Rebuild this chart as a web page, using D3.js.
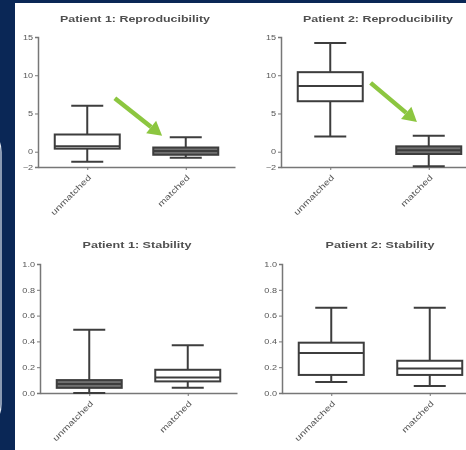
<!DOCTYPE html>
<html>
<head>
<meta charset="utf-8">
<script src="https://cdn.jsdelivr.net/npm/d3@7"></script>
<style>
  body { margin: 0; background: #0a2756; }
  svg { display: block; }
</style>
</head>
<body>
<script>
const width = 466;
const height = 450;

// chart values
const categories = ["unmatched", "matched"];
const titles = ["Patient 1: Reproducibility", "Patient 2: Reproducibility",
                "Patient 1: Stability", "Patient 2: Stability"];
const reproTicks = [-2, 0, 5, 10, 15];
const stabTicks = [0, 0.2, 0.4, 0.6, 0.8, 1.0];
// [whisker low, q1, median, q3, whisker high]
const p1Reproducibility = [[-1.3, 0.4, 0.7, 2.25, 6.0], [-0.8, -0.4, 0.1, 0.55, 1.9]];
const p2Reproducibility = [[2.0, 6.6, 8.6, 10.4, 14.2], [-1.9, -0.3, 0.2, 0.7, 2.1]];
const p1Stability = [[0.0, 0.04, 0.07, 0.10, 0.49], [0.04, 0.09, 0.12, 0.18, 0.37]];
const p2Stability = [[0.085, 0.14, 0.31, 0.39, 0.66], [0.055, 0.14, 0.19, 0.25, 0.66]];
// arrows: [position between categories (0..1), value]
const p1Arrow = [[0.28, 7.0], [0.76, 2.1]];
const p2Arrow = [[0.41, 9.0], [0.88, 3.9]];

const panels = [
  {title: titles[0], data: p1Reproducibility, ticks: reproTicks, fmt: d3.format("d"),
   ax: 38, top: 37, bottom: 167, tx: 135, ty: 22, tw: 150, arrow: p1Arrow},
  {title: titles[1], data: p2Reproducibility, ticks: reproTicks, fmt: d3.format("d"),
   ax: 281, top: 37, bottom: 167, tx: 378, ty: 22, tw: 150, arrow: p2Arrow},
  {title: titles[2], data: p1Stability, ticks: stabTicks, fmt: d3.format(".1f"),
   ax: 40, top: 264, bottom: 393, tx: 137, ty: 248, tw: 109},
  {title: titles[3], data: p2Stability, ticks: stabTicks, fmt: d3.format(".1f"),
   ax: 282, top: 264, bottom: 393, tx: 380, ty: 248, tw: 109}
];

const svg = d3.select("body").append("svg")
    .attr("width", width)
    .attr("height", height);

svg.append("defs").append("filter")
    .attr("id", "soft")
  .append("feGaussianBlur")
    .attr("stdDeviation", 0.45);

svg.append("rect")
    .attr("width", width)
    .attr("height", height)
    .attr("fill", "#0a2756");

svg.append("rect")
    .attr("x", 15).attr("y", 3)
    .attr("width", width - 15).attr("height", height - 3)
    .attr("fill", "#fff");

// edge of the slide's rounded frame on the left
svg.append("path")
    .attr("d", "M-6,137 Q1,139 1,152 L1,404 Q1,417 -6,419")
    .attr("fill", "none")
    .attr("stroke", "#dfe6f0")
    .attr("stroke-width", 1.2);

const root = svg.append("g").attr("filter", "url(#soft)");

panels.forEach(function (p) {
  const g = root.append("g");

  const y = d3.scaleLinear()
      .domain(d3.extent(p.ticks))
      .range([p.bottom, p.top]);

  const x = d3.scalePoint()
      .domain(categories)
      .range([p.ax, p.ax + 197])
      .padding(0.5);

  // title
  g.append("text")
      .attr("x", p.tx)
      .attr("y", p.ty)
      .attr("text-anchor", "middle")
      .attr("font-family", "Liberation Sans, Arial, sans-serif")
      .attr("font-weight", "bold")
      .attr("font-size", 8.5)
      .attr("fill", "#505050")
      .attr("textLength", p.tw)
      .attr("lengthAdjust", "spacingAndGlyphs")
      .text(p.title);

  // y axis
  const yAxis = g.append("g")
      .attr("transform", `translate(${p.ax},0)`)
      .call(d3.axisLeft(y).tickValues(p.ticks).tickFormat(p.fmt).tickSize(3).tickPadding(2));
  yAxis.select(".domain").attr("stroke", "#777").attr("stroke-width", 1.5);
  yAxis.selectAll(".tick line").attr("stroke", "#777").attr("stroke-width", 1);
  yAxis.selectAll("text")
      .attr("font-family", "Liberation Sans, Arial, sans-serif")
      .attr("font-size", 7)
      .attr("fill", "#555")
      .each(function () {
        const t = d3.select(this);
        t.attr("textLength", this.getComputedTextLength() * 1.3)
         .attr("lengthAdjust", "spacingAndGlyphs");
      });

  // x axis
  const xAxis = g.append("g")
      .attr("transform", `translate(0,${p.bottom})`)
      .call(d3.axisBottom(x).tickSize(3).tickSizeOuter(0).tickFormat(""));
  xAxis.select(".domain").attr("stroke", "#777").attr("stroke-width", 1.5);
  xAxis.selectAll(".tick line").attr("stroke", "#777");

  xAxis.selectAll(".tick").append("text")
      .attr("transform", "translate(2,9) rotate(-45)")
      .attr("text-anchor", "end")
      .attr("dy", "0.35em")
      .attr("font-family", "Liberation Sans, Arial, sans-serif")
      .attr("font-size", 8)
      .attr("fill", "#555")
      .text(d => d)
      .each(function () {
        d3.select(this)
          .attr("textLength", this.getComputedTextLength() * 1.35)
          .attr("lengthAdjust", "spacingAndGlyphs");
      });

  // boxes
  const boxW = 65;
  const capW = 32;
  const stroke = "#3c3c3c";
  const boxes = g.selectAll(".box")
      .data(p.data)
      .join("g")
      .attr("class", "box")
      .attr("transform", (d, i) => `translate(${x(categories[i])},0)`);

  boxes.append("line")
      .attr("y1", d => y(d[0])).attr("y2", d => y(d[1]))
      .attr("stroke", stroke).attr("stroke-width", 2);
  boxes.append("line")
      .attr("y1", d => y(d[3])).attr("y2", d => y(d[4]))
      .attr("stroke", stroke).attr("stroke-width", 2);
  boxes.append("line")
      .attr("x1", -capW / 2).attr("x2", capW / 2)
      .attr("y1", d => y(d[0])).attr("y2", d => y(d[0]))
      .attr("stroke", stroke).attr("stroke-width", 2);
  boxes.append("line")
      .attr("x1", -capW / 2).attr("x2", capW / 2)
      .attr("y1", d => y(d[4])).attr("y2", d => y(d[4]))
      .attr("stroke", stroke).attr("stroke-width", 2);
  boxes.append("rect")
      .attr("x", -boxW / 2)
      .attr("width", boxW)
      .attr("y", d => y(d[3]))
      .attr("height", d => y(d[1]) - y(d[3]))
      .attr("fill", d => (y(d[1]) - y(d[3]) < 10 ? "#707070" : "#fff"))
      .attr("stroke", stroke).attr("stroke-width", 2);
  boxes.append("line")
      .attr("x1", -boxW / 2).attr("x2", boxW / 2)
      .attr("y1", d => y(d[2])).attr("y2", d => y(d[2]))
      .attr("stroke", stroke).attr("stroke-width", 2);

  // green arrow
  if (p.arrow) {
    const x0 = x(categories[0]), x1 = x(categories[1]);
    const pt = a => [x0 + a[0] * (x1 - x0), y(a[1])];
    const [sx, sy] = pt(p.arrow[0]);
    const [ex, ey] = pt(p.arrow[1]);
    const ang = Math.atan2(ey - sy, ex - sx);
    const head = 14, half = 8;
    const bx = ex - head * Math.cos(ang), by = ey - head * Math.sin(ang);
    g.append("line")
        .attr("x1", sx).attr("y1", sy)
        .attr("x2", bx).attr("y2", by)
        .attr("stroke", "#8cc63f")
        .attr("stroke-width", 4.5);
    g.append("path")
        .attr("d", d3.line()([
          [ex, ey],
          [bx + half * Math.sin(ang), by - half * Math.cos(ang)],
          [bx - half * Math.sin(ang), by + half * Math.cos(ang)]
        ]) + "Z")
        .attr("fill", "#8cc63f");
  }
});
</script>
</body>
</html>
